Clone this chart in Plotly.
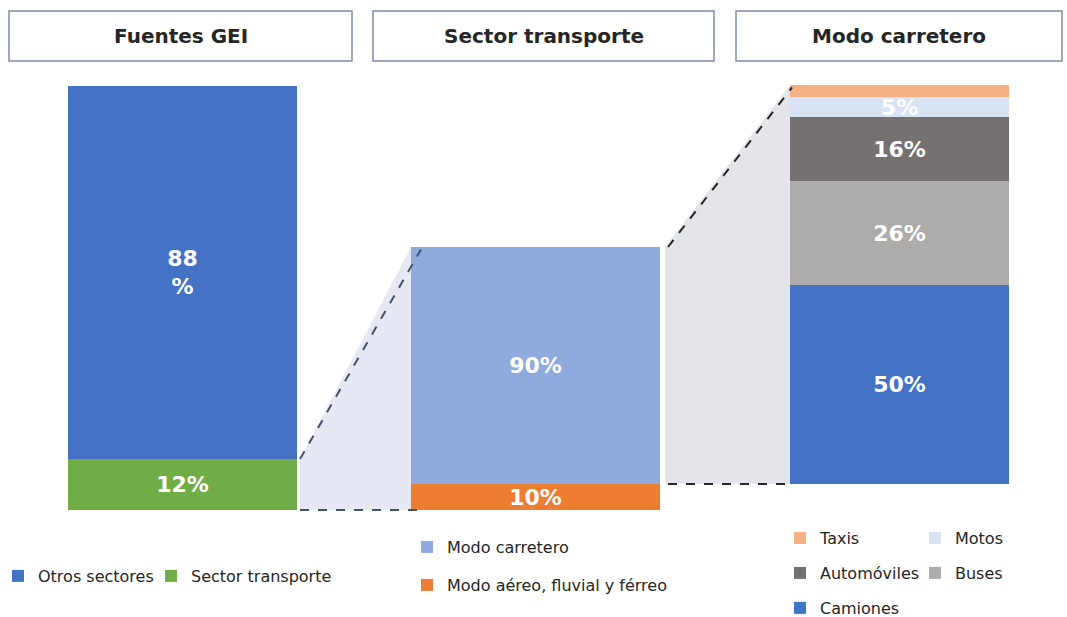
import plotly.graph_objects as go

# ---------------- data ----------------
fuentes_labels = ["Sector transporte", "Otros sectores"]          # bottom -> top
fuentes_values = [12, 88]
fuentes_text = ["12%", "88<br>%"]

transporte_labels = ["Modo aéreo, fluvial y férreo", "Modo carretero"]  # bottom -> top
transporte_values = [10, 90]
transporte_text = ["10%", "90%"]

carretero_labels = ["Camiones", "Buses", "Automóviles", "Motos", "Taxis"]  # bottom -> top
carretero_values = [50, 26, 16, 5, 3]
carretero_text = ["50%", "26%", "16%", "5%", ""]

headers = ["Fuentes GEI", "Sector transporte", "Modo carretero"]

# ---------------- styles ----------------
W, H = 1067, 617
colors = {
    "Otros sectores": "#4472C4", "Sector transporte": "#70AD47",
    "Modo carretero": "#8FAADC", "Modo aéreo, fluvial y férreo": "#ED7D31",
    "Taxis": "#F4B183", "Motos": "#DAE3F3", "Automóviles": "#767171",
    "Buses": "#AEABAB", "Camiones": "#4472C4",
}
legend_rank = {"Otros sectores": 1, "Sector transporte": 2, "Modo carretero": 3,
               "Modo aéreo, fluvial y férreo": 4, "Taxis": 5, "Motos": 6,
               "Automóviles": 7, "Buses": 8, "Camiones": 9}
legend_of = {"Otros sectores": "legend", "Sector transporte": "legend7",
             "Modo carretero": "legend2", "Modo aéreo, fluvial y férreo": "legend3",
             "Taxis": "legend4", "Motos": "legend4", "Automóviles": "legend5",
             "Buses": "legend5", "Camiones": "legend6"}

FONT = "DejaVu Sans"
# bar groups: (x-left, x-right, bottom px, top px)
groups = [(68, 297, 510, 86), (411, 660, 510, 247), (790, 1009, 484, 85)]
axes = ["y", "y2", "y3"]


def axis_range(bottom, top):
    ppu = (bottom - top) / 100.0
    return [-(H - bottom) / ppu, bottom / ppu]


ranges = [axis_range(g[2], g[3]) for g in groups]


def ypaper(k, v):
    lo, hi = ranges[k]
    return (v - lo) / (hi - lo)


fig = go.Figure()

datasets = [(fuentes_labels, fuentes_values, fuentes_text),
            (transporte_labels, transporte_values, transporte_text),
            (carretero_labels, carretero_values, carretero_text)]

for k, (labels, values, texts) in enumerate(datasets):
    x0, x1, _, _ = groups[k]
    base = 0
    for lab, val, txt in zip(labels, values, texts):
        fig.add_trace(go.Bar(
            x=[(x0 + x1) / 2], y=[val], base=[base], width=[x1 - x0],
            yaxis=axes[k], name=lab, marker=dict(color=colors[lab], line=dict(width=0)),
            text=[txt], textposition="inside", insidetextanchor="middle",
            textangle=0, constraintext="none",
            textfont=dict(family=FONT, size=22, color="white", weight="bold"),
            legend=legend_of[lab], legendrank=legend_rank[lab], showlegend=True,
            hoverinfo="skip",
        ))
        base += val

shapes = []
# header boxes
header_boxes = [(9, 352), (373, 714), (736, 1062)]
annotations = []
for (hx0, hx1), ht in zip(header_boxes, headers):
    shapes.append(dict(type="rect", xref="x", yref="paper", x0=hx0, x1=hx1,
                       y0=1 - 61 / H, y1=1 - 11 / H,
                       line=dict(color="#7F8CA3", width=1.5), fillcolor="white"))
    annotations.append(dict(x=(hx0 + hx1) / 2, y=1 - 36 / H, xref="x", yref="paper",
                            xanchor="center", yanchor="middle",
                            text=f"<b>{ht}</b>", showarrow=False,
                            font=dict(family=FONT, size=20, color="#262626")))

# connector 1: Sector transporte -> whole transport bar
c1x0, c1x1 = groups[0][1] + 3, groups[1][0]
ya, yb = ypaper(0, fuentes_values[0]), ypaper(1, sum(transporte_values))
yc, yd = ypaper(1, 0), ypaper(0, 0)
shapes.append(dict(type="path", xref="x", yref="paper", layer="below",
                   path=f"M{c1x0},{ya} L{c1x1},{yb} L{c1x1},{yc} L{c1x0},{yd} Z",
                   fillcolor="#E6E9F4", line=dict(width=0)))
shapes.append(dict(type="line", xref="x", yref="paper", x0=c1x0, y0=ya, x1=c1x1 + 10, y1=yb - 0.004,
                   line=dict(color="#44546A", width=2, dash="dash")))
shapes.append(dict(type="line", xref="x", yref="paper", x0=c1x0, y0=yd, x1=c1x1 + 10, y1=yd,
                   line=dict(color="#44546A", width=2, dash="dash")))

# connector 2: Modo carretero -> road breakdown
c2x0, c2x1 = groups[1][1] + 5, groups[2][0]
ya2, yb2 = ypaper(1, sum(transporte_values)), ypaper(2, sum(carretero_values))
yc2, yd2 = ypaper(2, 0), ypaper(1, transporte_values[0])
shapes.append(dict(type="path", xref="x", yref="paper", layer="below",
                   path=f"M{c2x0},{ya2} L{c2x1},{yb2} L{c2x1},{yc2} L{c2x0},{yd2} Z",
                   fillcolor="#E3E5EA", line=dict(width=0)))
shapes.append(dict(type="line", xref="x", yref="paper", x0=c2x0 + 3, y0=ya2, x1=c2x1 + 2, y1=yb2 - 0.004,
                   line=dict(color="#262626", width=2, dash="dash")))
shapes.append(dict(type="line", xref="x", yref="paper", x0=c2x0 + 3, y0=yc2, x1=c2x1, y1=yc2,
                   line=dict(color="#262626", width=2, dash="dash")))


def leg(xpx, ypx, entrywidth=None):
    d = dict(orientation="h", x=xpx / W, y=1 - ypx / H, xanchor="left", yanchor="middle",
             bgcolor="rgba(0,0,0,0)", font=dict(family=FONT, size=16, color="#262626"),
             traceorder="normal", itemclick=False, itemdoubleclick=False)
    if entrywidth:
        d["entrywidth"] = entrywidth
    return d


yaxis_common = dict(visible=False, fixedrange=True)
fig.update_layout(
    width=W, height=H, margin=dict(l=0, r=0, t=0, b=0, autoexpand=False),
    paper_bgcolor="white", plot_bgcolor="white",
    barmode="overlay", bargap=0,
    xaxis=dict(range=[0, W], visible=False, fixedrange=True),
    yaxis=dict(range=ranges[0], **yaxis_common),
    yaxis2=dict(range=ranges[1], overlaying="y", **yaxis_common),
    yaxis3=dict(range=ranges[2], overlaying="y", **yaxis_common),
    shapes=shapes, annotations=annotations,
    legend=leg(-2, 576),
    legend7=leg(151, 576),
    legend2=leg(407, 547),
    legend3=leg(407, 585),
    legend4=leg(780, 538, 90),
    legend5=leg(780, 573, 90),
    legend6=leg(780, 608, 90),
    showlegend=True,
)

fig.write_html("out.html", config={"displayModeBar": False},
               post_script="document.body.style.margin='0';")
